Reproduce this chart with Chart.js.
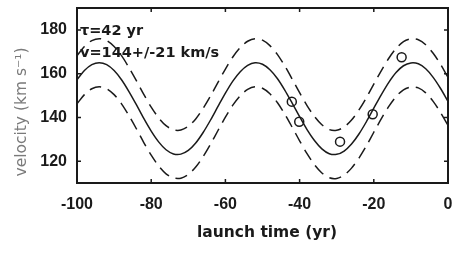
<!DOCTYPE html>
<html lang="en">
<head>
<meta charset="utf-8"/>
<title>Velocity vs launch time</title>
<script src="https://cdn.jsdelivr.net/npm/chart.js"></script>
<style>
  html, body { margin: 0; padding: 0; background: #fff; }
  #wrap { width: 456px; height: 253px; }
</style>
</head>
<body>
<div id="wrap"><canvas id="chart" width="456" height="253"></canvas></div>
<script>
  // launch time (yr), sampled every 2 years
  const years = [-100, -98, -96, -94, -92, -90, -88, -86, -84, -82, -80, -78, -76, -74, -72, -70, -68,
    -66, -64, -62, -60, -58, -56, -54, -52, -50, -48, -46, -44, -42, -40, -38, -36, -34, -32, -30,
    -28, -26, -24, -22, -20, -18, -16, -14, -12, -10, -8, -6, -4, -2, 0];

  // best fit velocity (km/s)
  const fit = [157.2, 161.4, 164.1, 165.0, 164.1, 161.4, 157.2, 151.8, 145.8, 139.5, 133.7, 128.8, 125.2,
    123.3, 123.2, 124.9, 128.3, 133.1, 138.8, 145.0, 151.1, 156.6, 160.9, 163.8, 165.0, 164.3, 161.8,
    157.8, 152.5, 146.5, 140.3, 134.4, 129.4, 125.6, 123.4, 123.1, 124.6, 127.8, 132.4, 138.0, 144.2,
    150.3, 155.9, 160.5, 163.6, 164.9, 164.5, 162.2, 158.3, 153.2, 147.3];

  // upper and lower envelopes (dashed)
  const upper = [168.2, 172.4, 175.1, 176.0, 175.1, 172.4, 168.2, 162.8, 156.8, 150.5, 144.7, 139.8, 136.2,
    134.3, 134.2, 135.9, 139.3, 144.1, 149.8, 156.0, 162.1, 167.6, 171.9, 174.8, 176.0, 175.3, 172.8,
    168.8, 163.5, 157.5, 151.3, 145.4, 140.4, 136.6, 134.4, 134.1, 135.6, 138.8, 143.4, 149.0, 155.2,
    161.3, 166.9, 171.5, 174.6, 175.9, 175.5, 173.2, 169.3, 164.2, 158.3];
  const lower = [146.2, 150.4, 153.1, 154.0, 153.1, 150.4, 146.2, 140.8, 134.8, 128.5, 122.7, 117.8, 114.2,
    112.3, 112.2, 113.9, 117.3, 122.1, 127.8, 134.0, 140.1, 145.6, 149.9, 152.8, 154.0, 153.3, 150.8,
    146.8, 141.5, 135.5, 129.3, 123.4, 118.4, 114.6, 112.4, 112.1, 113.6, 116.8, 121.4, 127.0, 133.2,
    139.3, 144.9, 149.5, 152.6, 153.9, 153.5, 151.2, 147.3, 142.2, 136.3];

  // observed points
  const obsTime = [-42.1, -40.1, -29.1, -20.3, -12.5];
  const obsVel = [147.2, 138.0, 128.9, 141.4, 167.5];

  const xTicks = [-100, -80, -60, -40, -20, 0];
  const yTicks = [120, 140, 160, 180];
  const notes = ['τ=42 yr', 'v=144+/-21 km/s'];
  const xTitle = 'launch time (yr)';
  const yTitle = 'velocity (km s⁻¹)';

  const ink = '#1a1a1a';
  const pts = arr => years.map((t, i) => ({ x: t, y: arr[i] }));

  // box, inward ticks and text labels
  const decor = {
    id: 'decor',
    afterDatasetsDraw(chart) {
      const { ctx, chartArea: a, scales: { x, y } } = chart;
      ctx.save();
      ctx.strokeStyle = ink;
      ctx.lineWidth = 2;
      ctx.strokeRect(a.left, a.top, a.right - a.left, a.bottom - a.top);
      ctx.lineWidth = 1.5;
      ctx.beginPath();
      xTicks.forEach(v => {
        const px = x.getPixelForValue(v);
        ctx.moveTo(px, a.bottom); ctx.lineTo(px, a.bottom - 4);
        ctx.moveTo(px, a.top); ctx.lineTo(px, a.top + 4);
      });
      yTicks.forEach(v => {
        const py = y.getPixelForValue(v);
        ctx.moveTo(a.left, py); ctx.lineTo(a.left + 4, py);
        ctx.moveTo(a.right, py); ctx.lineTo(a.right - 4, py);
      });
      ctx.stroke();

      ctx.fillStyle = ink;
      ctx.textBaseline = 'middle';
      ctx.font = 'bold 14.5px "DejaVu Sans"';
      ctx.fillText(notes[0], x.getPixelForValue(-99.2), y.getPixelForValue(179.2));
      ctx.fillText(notes[1], x.getPixelForValue(-99.2), y.getPixelForValue(169.4));

      ctx.textAlign = 'center';
      ctx.font = 'bold 15.5px "DejaVu Sans"';
      ctx.fillText(xTitle, 267, 233);

      ctx.translate(22, 112);
      ctx.rotate(-Math.PI / 2);
      ctx.fillStyle = '#7a7a7a';
      ctx.font = '15.5px "DejaVu Sans"';
      ctx.fillText(yTitle, 0, 0);
      ctx.restore();
    }
  };

  const lineStyle = { borderColor: ink, borderWidth: 1.5, pointRadius: 0, tension: 0.3, fill: false };
  const tickFont = { family: 'Liberation Sans', size: 16, weight: 'bold' };

  new Chart(document.getElementById('chart'), {
    type: 'line',
    data: {
      datasets: [
        { ...lineStyle, data: pts(fit) },
        { ...lineStyle, data: pts(upper), borderDash: [12, 7] },
        { ...lineStyle, data: pts(lower), borderDash: [12, 7] },
        {
          type: 'scatter',
          data: obsTime.map((t, i) => ({ x: t, y: obsVel[i] })),
          showLine: false,
          pointStyle: 'circle',
          pointRadius: 4.5,
          pointBorderWidth: 1.5,
          pointBorderColor: ink,
          pointBackgroundColor: 'rgba(0,0,0,0)'
        }
      ]
    },
    options: {
      responsive: false,
      animation: false,
      layout: { padding: { top: 8, right: 8, left: 0, bottom: 0 } },
      plugins: { legend: { display: false }, tooltip: { enabled: false } },
      scales: {
        x: {
          type: 'linear',
          min: -100,
          max: 0,
          afterBuildTicks: s => { s.ticks = xTicks.map(v => ({ value: v })); },
          afterFit: s => { s.height = 70; s.paddingLeft = 0; s.paddingRight = 0; },
          grid: { display: false, drawTicks: false },
          border: { display: false },
          ticks: { padding: 12, color: ink, font: tickFont }
        },
        y: {
          min: 110,
          max: 190,
          afterBuildTicks: s => { s.ticks = yTicks.map(v => ({ value: v })); },
          afterFit: s => { s.width = 77; s.paddingTop = 0; s.paddingBottom = 0; },
          grid: { display: false, drawTicks: false },
          border: { display: false },
          ticks: { padding: 10, color: ink, font: tickFont }
        }
      }
    },
    plugins: [decor]
  });
</script>
</body>
</html>
